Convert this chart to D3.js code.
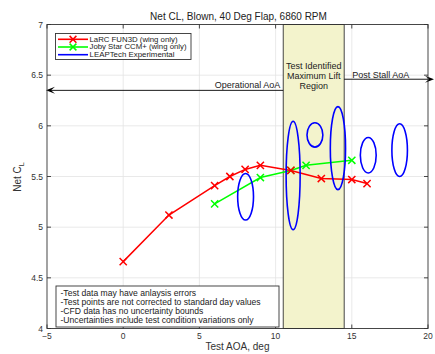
<!DOCTYPE html>
<html>
<head>
<meta charset="utf-8">
<script src="https://cdn.jsdelivr.net/npm/d3@7"></script>
<style>
  html, body { margin: 0; padding: 0; background: #fff; }
  svg { display: block; font-family: "Liberation Sans", Arial, sans-serif; }
</style>
</head>
<body>
<svg id="chart" width="435" height="354"></svg>
<script>
// LaRC FUN3D (wing only)
const larcAoa = [0, 3, 6, 7, 8, 9, 11, 13, 15, 16];
const larcCl  = [4.66, 5.12, 5.41, 5.50, 5.57, 5.61, 5.56, 5.48, 5.47, 5.43];
// Joby Star CCM+ (wing only)
const jobyAoa = [6, 9, 11, 12, 15];
const jobyCl  = [5.23, 5.49, 5.56, 5.61, 5.66];
// LEAPTech experimental points with uncertainty half-widths
const expAoa  = [8.03, 11.15, 12.58, 14.09, 16.08, 18.14];
const expCl   = [5.30, 5.51, 5.91, 5.78, 5.71, 5.76];
const expErrAoa = [0.52, 0.46, 0.52, 0.50, 0.52, 0.51];
const expErrCl  = [0.23, 0.535, 0.12, 0.41, 0.175, 0.26];

const xTicks = [-5, 0, 5, 10, 15, 20];
const yTicks = [4, 4.5, 5, 5.5, 6, 6.5, 7];
const maxLiftRegion = [10.5, 14.5];
const operationalCl = 6.35;
const postStallCl = 6.46;
const notes = [
  "-Test data may have anlaysis errors",
  "-Test points are not corrected to standard day values",
  "-CFD data has no uncertainty bounds",
  "-Uncertainties include test condition variations only"
];

const svg = d3.select("#chart");
const m = { left: 47, right: 428, top: 24.5, bottom: 328.5 };
const x = d3.scaleLinear().domain([-5, 20]).range([m.left, m.right]);
const y = d3.scaleLinear().domain([4, 7]).range([m.bottom, m.top]);

const defs = svg.append("defs");
defs.append("clipPath").attr("id", "plotclip")
  .append("rect").attr("x", m.left).attr("y", m.top)
  .attr("width", m.right - m.left).attr("height", m.bottom - m.top);

// grid
const grid = svg.append("g").attr("stroke", "#e3e3e3").attr("stroke-width", 0.8);
xTicks.slice(1, -1).forEach(t => grid.append("line")
  .attr("x1", x(t)).attr("x2", x(t)).attr("y1", m.top).attr("y2", m.bottom));
yTicks.slice(1, -1).forEach(t => grid.append("line")
  .attr("x1", m.left).attr("x2", m.right).attr("y1", y(t)).attr("y2", y(t)));

// maximum lift region
svg.append("rect")
  .attr("x", x(maxLiftRegion[0])).attr("y", m.top)
  .attr("width", x(maxLiftRegion[1]) - x(maxLiftRegion[0]))
  .attr("height", m.bottom - m.top)
  .attr("fill", "#f3f3cc").attr("stroke", "#333").attr("stroke-width", 0.9);

const regionLabel = svg.append("text")
  .attr("text-anchor", "middle").attr("font-size", 9).attr("fill", "#222");
["Test Identified", "Maximum Lift", "Region"].forEach((s, i) =>
  regionLabel.append("tspan")
    .attr("x", (x(maxLiftRegion[0]) + x(maxLiftRegion[1])) / 2)
    .attr("y", 69 + i * 10).text(s));

// arrows
function arrowHead(px, py, dir) {
  const L = 9, W = 3.5, n = 4;
  svg.append("path")
    .attr("d", `M${px},${py} L${px - dir * L},${py - W} L${px - dir * (L - n)},${py} L${px - dir * L},${py + W} Z`)
    .attr("fill", "#000");
}
svg.append("line").attr("x1", x(maxLiftRegion[0])).attr("x2", m.left + 2)
  .attr("y1", y(operationalCl)).attr("y2", y(operationalCl))
  .attr("stroke", "#000").attr("stroke-width", 0.9);
arrowHead(m.left - 1, y(operationalCl), -1);
svg.append("text").attr("x", x(maxLiftRegion[0]) - 3).attr("y", y(operationalCl) - 2.5)
  .attr("text-anchor", "end").attr("font-size", 9).attr("fill", "#222").text("Operational AoA");

svg.append("line").attr("x1", x(maxLiftRegion[1])).attr("x2", 430)
  .attr("y1", y(postStallCl)).attr("y2", y(postStallCl))
  .attr("stroke", "#000").attr("stroke-width", 0.9);
arrowHead(434, y(postStallCl), 1);
svg.append("text").attr("x", x(maxLiftRegion[1]) + 8).attr("y", y(postStallCl) - 1)
  .attr("font-size", 9).attr("fill", "#222").text("Post Stall AoA");

const plot = svg.append("g").attr("clip-path", "url(#plotclip)");
const line = d3.line().x(d => x(d[0])).y(d => y(d[1]));

function xMarks(g, pts, color) {
  const s = 3.6;
  pts.forEach(([a, c]) => {
    g.append("path")
      .attr("d", `M${x(a) - s},${y(c) - s}L${x(a) + s},${y(c) + s}M${x(a) - s},${y(c) + s}L${x(a) + s},${y(c) - s}`)
      .attr("stroke", color).attr("stroke-width", 1.5).attr("fill", "none");
  });
}

const jobyPts = jobyAoa.map((a, i) => [a, jobyCl[i]]);
const larcPts = larcAoa.map((a, i) => [a, larcCl[i]]);

plot.append("path").datum(jobyPts).attr("d", line)
  .attr("fill", "none").attr("stroke", "#00ff00").attr("stroke-width", 1.5);
xMarks(plot, jobyPts, "#00ff00");
plot.append("path").datum(larcPts).attr("d", line)
  .attr("fill", "none").attr("stroke", "#ff0000").attr("stroke-width", 1.5);
xMarks(plot, larcPts, "#ff0000");

// experimental uncertainty ellipses
expAoa.forEach((a, i) => {
  plot.append("ellipse")
    .attr("cx", x(a)).attr("cy", y(expCl[i]))
    .attr("rx", x(a + expErrAoa[i]) - x(a))
    .attr("ry", y(expCl[i] - expErrCl[i]) - y(expCl[i]))
    .attr("fill", "none").attr("stroke", "#0000ff").attr("stroke-width", 1.6);
});

// axes box and ticks
svg.append("rect").attr("x", m.left).attr("y", m.top)
  .attr("width", m.right - m.left).attr("height", m.bottom - m.top)
  .attr("fill", "none").attr("stroke", "#333").attr("stroke-width", 0.9);

const tk = svg.append("g").attr("stroke", "#333").attr("stroke-width", 0.9);
xTicks.forEach(t => {
  tk.append("line").attr("x1", x(t)).attr("x2", x(t)).attr("y1", m.bottom).attr("y2", m.bottom - 4);
  tk.append("line").attr("x1", x(t)).attr("x2", x(t)).attr("y1", m.top).attr("y2", m.top + 4);
});
yTicks.forEach(t => {
  tk.append("line").attr("x1", m.left).attr("x2", m.left + 4).attr("y1", y(t)).attr("y2", y(t));
  tk.append("line").attr("x1", m.right).attr("x2", m.right - 4).attr("y1", y(t)).attr("y2", y(t));
});

const xf = d3.format("d");
xTicks.forEach(t => svg.append("text").attr("x", x(t)).attr("y", m.bottom + 10)
  .attr("text-anchor", "middle").attr("font-size", 8.5).attr("fill", "#333").text(xf(t)));
yTicks.forEach(t => svg.append("text").attr("x", m.left - 4).attr("y", y(t) + 3)
  .attr("text-anchor", "end").attr("font-size", 8.5).attr("fill", "#333").text(String(t)));

svg.append("text").attr("x", (m.left + m.right) / 2).attr("y", 350)
  .attr("text-anchor", "middle").attr("font-size", 10).attr("fill", "#333").text("Test AOA, deg");

const yl = svg.append("text").attr("transform", `translate(21,177) rotate(-90)`)
  .attr("text-anchor", "middle").attr("font-size", 10).attr("fill", "#333");
yl.append("tspan").text("Net C");
yl.append("tspan").attr("font-size", 7).attr("dy", 3).text("L");

svg.append("text").attr("x", (m.left + m.right) / 2 + 1).attr("y", 20)
  .attr("text-anchor", "middle").attr("font-size", 10).attr("fill", "#222")
  .text("Net CL, Blown, 40 Deg Flap, 6860 RPM");

// legend
const leg = svg.append("g");
leg.append("rect").attr("x", 55.5).attr("y", 33.5).attr("width", 135.5).attr("height", 26)
  .attr("fill", "#fff").attr("stroke", "#333").attr("stroke-width", 0.9);
const legItems = [
  { label: "LaRC FUN3D (wing only)", color: "#ff0000", mark: true, w: 88 },
  { label: "Joby Star CCM+ (wing only)", color: "#00ff00", mark: true, w: 97 },
  { label: "LEAPTech Experimental", color: "#0000ff", mark: false, w: 85 }
];
legItems.forEach((d, i) => {
  const ly = 39.3 + i * 7.7;
  leg.append("line").attr("x1", 58).attr("x2", 88).attr("y1", ly).attr("y2", ly)
    .attr("stroke", d.color).attr("stroke-width", 1.6);
  if (d.mark) {
    const s = 3.4, cx = 73;
    leg.append("path")
      .attr("d", `M${cx - s},${ly - s}L${cx + s},${ly + s}M${cx - s},${ly + s}L${cx + s},${ly - s}`)
      .attr("stroke", d.color).attr("stroke-width", 1.5);
  }
  leg.append("text").attr("x", 89.5).attr("y", ly + 2.4).attr("font-size", 6.6)
    .attr("textLength", d.w).attr("lengthAdjust", "spacingAndGlyphs")
    .attr("fill", "#222").text(d.label);
});

// notes box
svg.append("rect").attr("x", 56).attr("y", 286).attr("width", 223).attr("height", 41)
  .attr("fill", "#fff").attr("stroke", "#333").attr("stroke-width", 0.9);
notes.forEach((s, i) => svg.append("text").attr("x", 60.5).attr("y", 295.5 + i * 9)
  .attr("font-size", 8.6).attr("fill", "#222").text(s));
</script>
</body>
</html>
